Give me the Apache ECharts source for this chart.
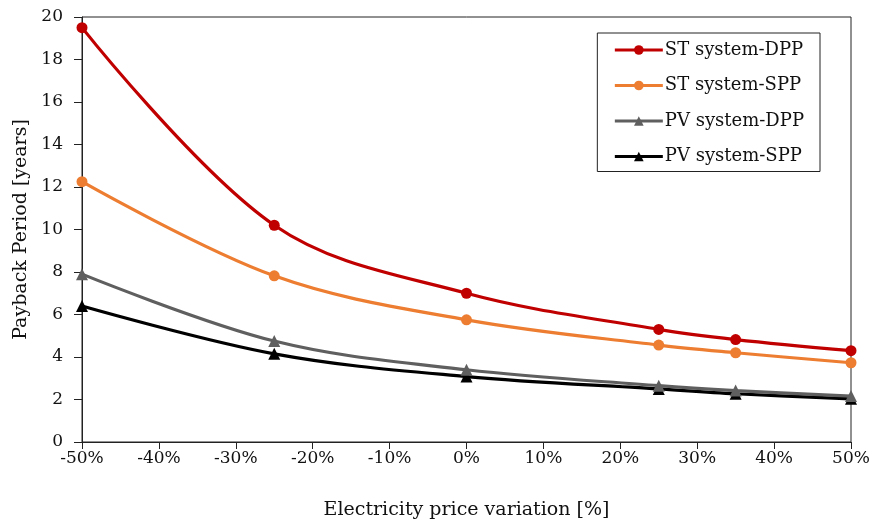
<!DOCTYPE html>
<html><head><meta charset="utf-8">
<script src="https://cdn.jsdelivr.net/npm/echarts@6/dist/echarts.min.js"></script>
<style>html,body{margin:0;padding:0;background:#fff}#c{width:872px;height:522px}</style>
</head><body><div id="c"></div>
<script>
const xValues = [-50, -25, 0, 25, 35, 50];
const stDPP = [19.5, 10.2, 7.0, 5.3, 4.82, 4.3];
const stSPP = [12.25, 7.82, 5.75, 4.56, 4.2, 3.73];
const pvDPP = [7.9, 4.75, 3.4, 2.65, 2.42, 2.16];
const pvSPP = [6.4, 4.15, 3.08, 2.5, 2.27, 2.03];
const seriesNames = ['ST system-DPP', 'ST system-SPP', 'PV system-DPP', 'PV system-SPP'];
const xTitle = 'Electricity price variation [%]';
const yTitle = 'Payback Period [years]';

const font = 'DejaVu Serif';
const chart = echarts.init(document.getElementById('c'));
function pts(v){ return xValues.map((x,i)=>[x, v[i]]); }
const colors = ['#C00000', '#ED7D31', '#5F5F5F', '#000000'];
const symbols = ['circle','circle','triangle','triangle'];
const data = [stDPP, stSPP, pvDPP, pvSPP];
chart.setOption({
  animation: false,
  textStyle: {fontFamily: font},
  grid: {left: 82, right: 21, top: 17, bottom: 80, show: true, borderColor: '#222', borderWidth: 1,
         containLabel: false, outerBoundsMode: 'none'},
  legend: {
    orient: 'vertical', right: 52, top: 33, itemGap: 17.5,
    itemWidth: 48, itemHeight: 12,
    padding: [8, 16, 6, 16],
    borderColor: '#222', borderWidth: 1, backgroundColor: '#fff',
    lineStyle: {width: 3},
    textStyle: {fontFamily: font, fontSize: 18, color: '#111', padding: [0,0,0,-3]},
    data: seriesNames
  },
  xAxis: {
    type: 'value', min: -50, max: 50, interval: 10,
    name: xTitle, nameLocation: 'middle', nameGap: 59,
    nameTextStyle: {fontFamily: font, fontSize: 19, color: '#111'},
    axisLine: {onZero: false, lineStyle: {color: '#222'}},
    axisTick: {show: true, length: 7, lineStyle: {color: '#222'}},
    axisLabel: {formatter: v => v + '%', fontFamily: font, fontSize: 17, color: '#111', margin: 8},
    splitLine: {show: false}
  },
  yAxis: {
    type: 'value', min: 0, max: 20, interval: 2,
    name: yTitle, nameLocation: 'middle', nameGap: 50,
    nameTextStyle: {fontFamily: font, fontSize: 19, color: '#111'},
    axisLine: {show: true, onZero: false, lineStyle: {color: '#222'}},
    axisTick: {show: true, length: 8, lineStyle: {color: '#222'}},
    axisLabel: {fontFamily: font, fontSize: 17, color: '#111', margin: 19},
    splitLine: {show: false}
  },
  series: seriesNames.map((n,i)=>({
    name: n, type: 'line', smooth: 0.35,
    data: pts(data[i]),
    symbol: symbols[i], symbolSize: i < 2 ? 11 : 12,
    itemStyle: {color: colors[i]},
    lineStyle: {color: colors[i], width: 3.2},
    z: 10 - i
  }))
});
</script></body></html>
